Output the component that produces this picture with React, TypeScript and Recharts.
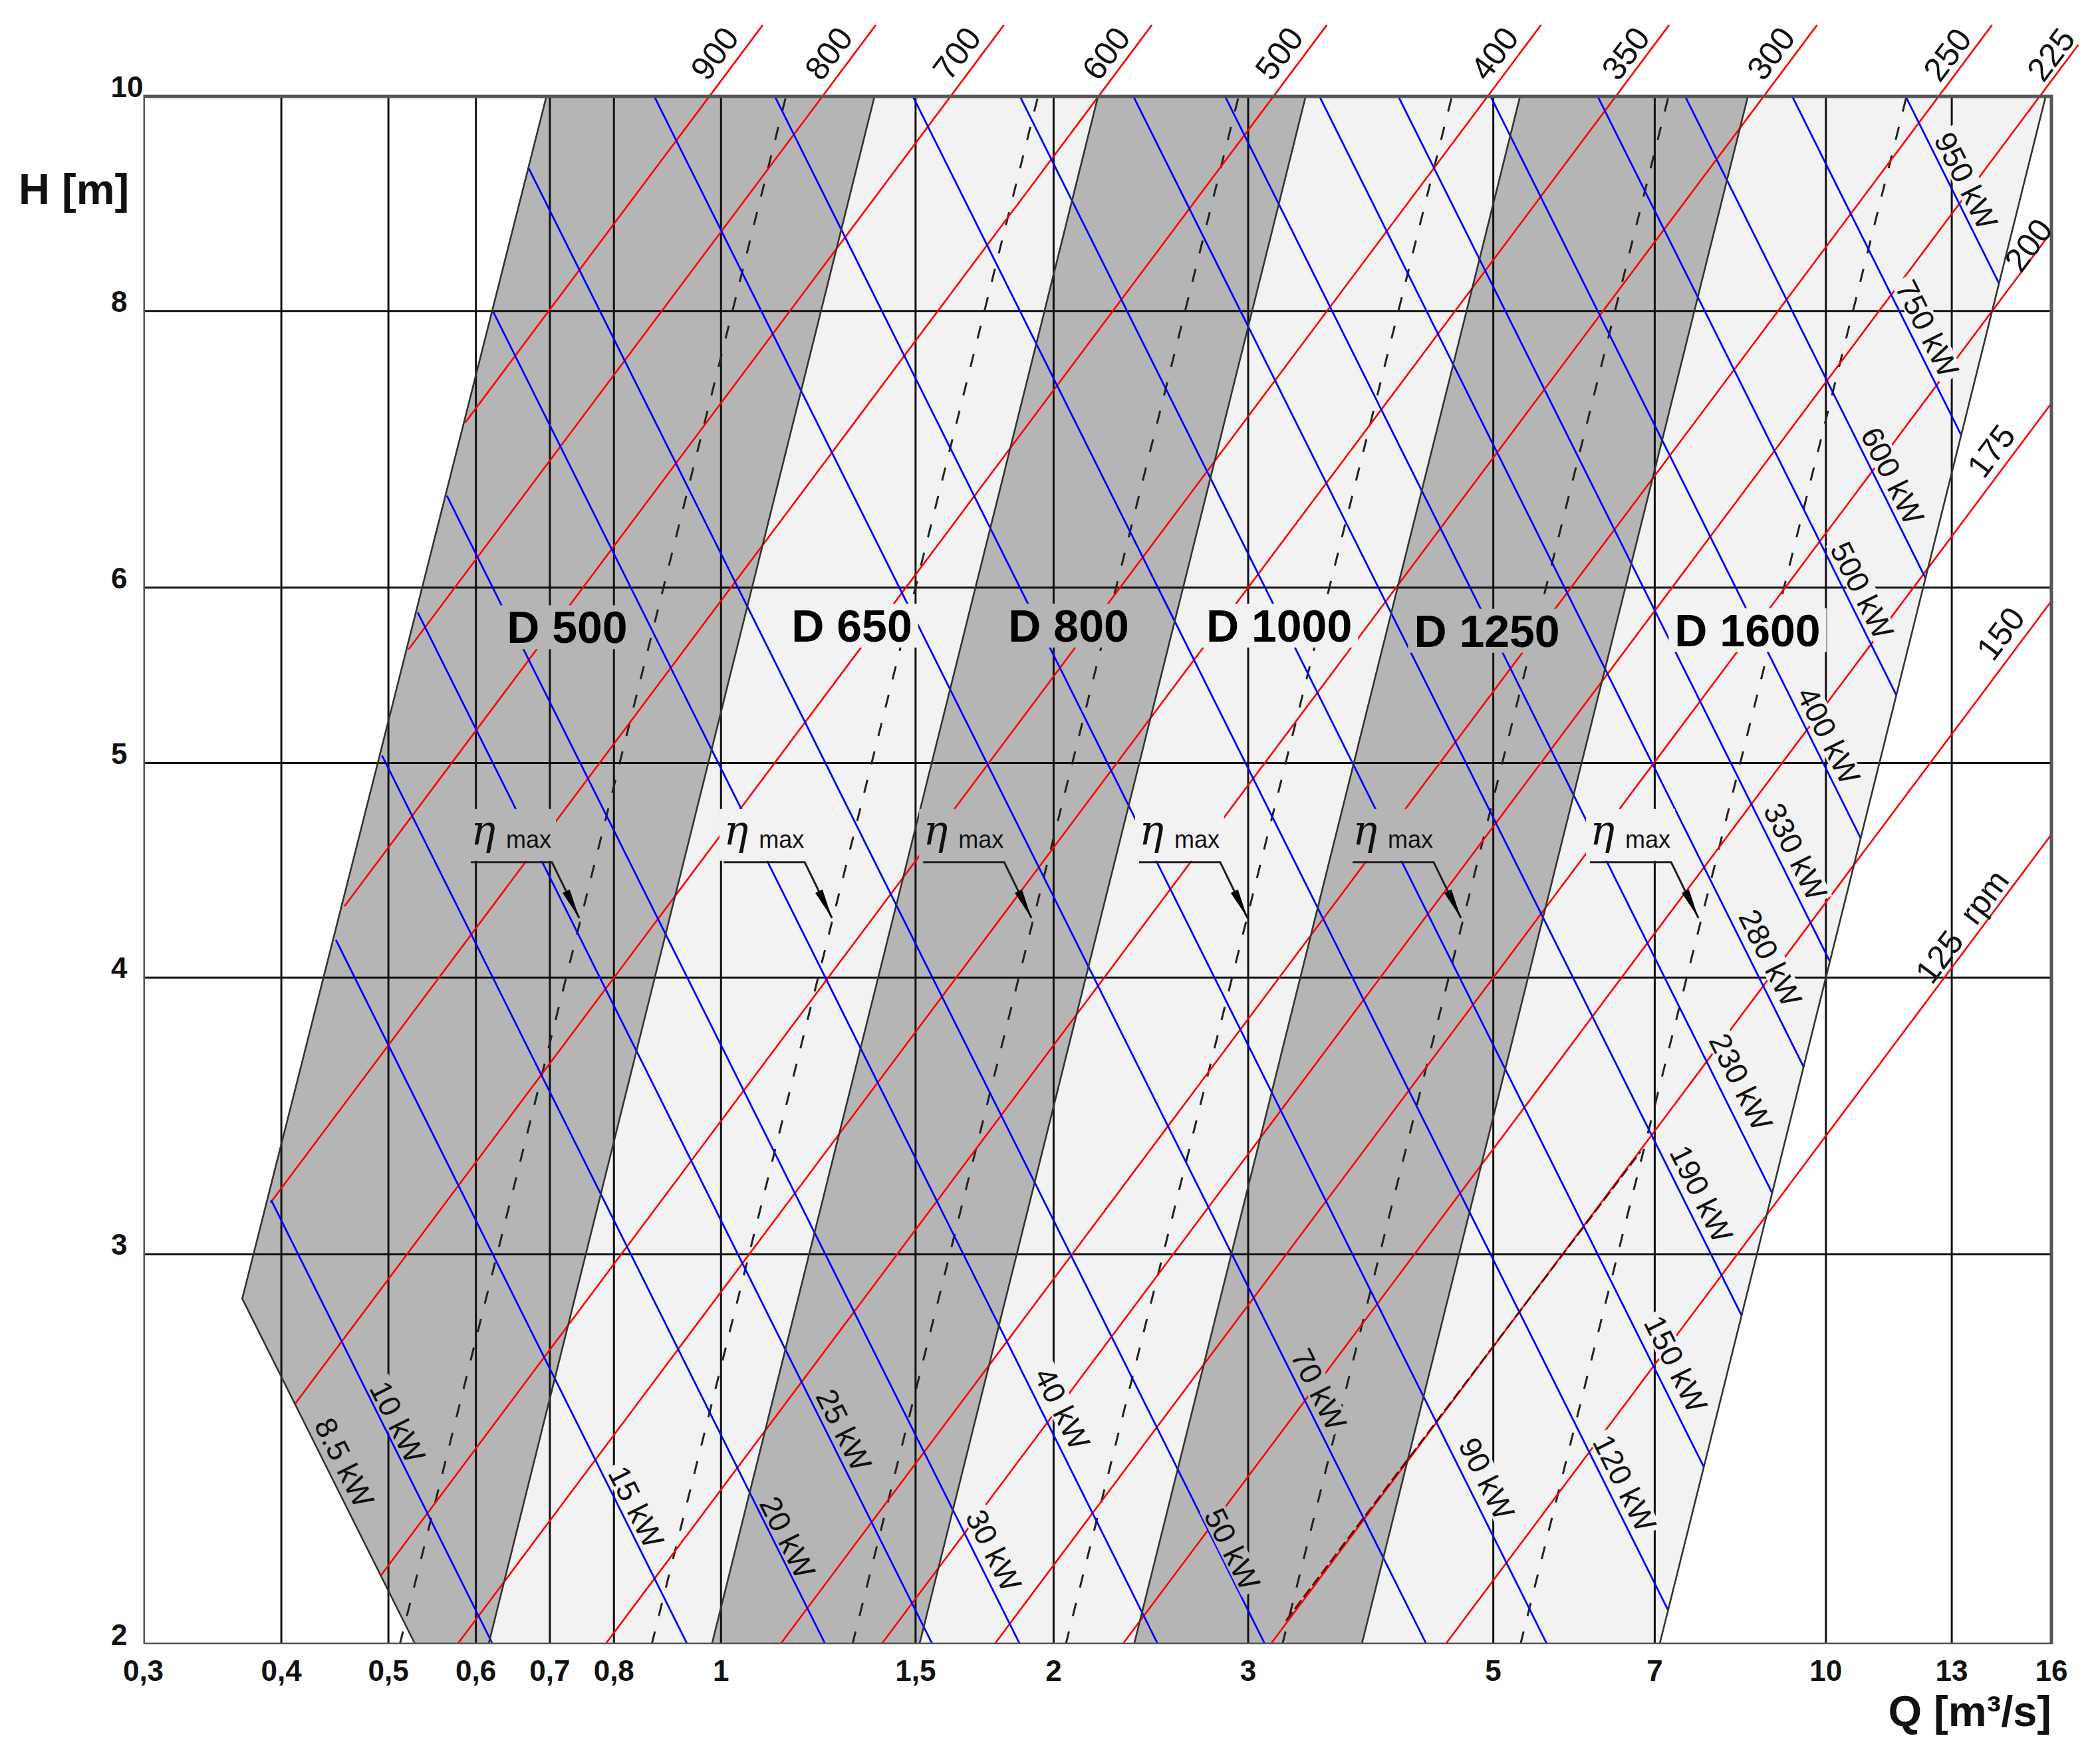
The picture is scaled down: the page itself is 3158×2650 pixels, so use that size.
import React from "react";
import { ComposedChart, Scatter, XAxis, YAxis } from "recharts";

// axes
const qTicks = [0.3, 0.4, 0.5, 0.6, 0.7, 0.8, 1, 1.5, 2, 3, 5, 7, 10, 13, 16];
const hTicks = [2, 3, 4, 5, 6, 8, 10];

// pump bands: Q where every band edge meets H = 10 and H = 2
const bandNames = ["D 500", "D 650", "D 800", "D 1000", "D 1250", "D 1600"];
const edgeTopQ = [0.695, 1.377, 2.194, 3.382, 5.287, 8.5, 15.81];
const edgeBottomQ = [0.5287, 0.616, 0.981, 1.512, 2.365, 3.801, 7.071];
const leftCorner = { q: 0.3687, h: 2.865 };

// speed lines [rpm, q0, h0, q1, h1]
const rpmLines = [
  [900, 0.5866, 7.122, 1.0909, 10.77],
  [800, 0.5214, 5.627, 1.3807, 10.77],
  [700, 0.4562, 4.308, 1.8033, 10.77],
  [600, 0.391, 3.165, 2.4545, 10.77],
  [500, 0.4116, 2.568, 3.5345, 10.77],
  [400, 0.4921, 2.148, 5.5227, 10.77],
  [350, 0.5772, 2, 7.2132, 10.77],
  [300, 0.7857, 2, 9.8181, 10.77],
  [250, 1.1314, 2, 14.138, 10.77],
  [225, 1.3968, 2, 16.92, 10.55],
  [200, 1.7678, 2, 16, 8.686],
  [175, 2.3089, 2, 16, 7.268],
  [150, 3.1427, 2, 16, 5.917],
  [125, 4.5255, 2, 16, 4.642],
];

// power lines [kW, q0, h0, q1, h1]
const kwLines = [
  [10, 0.3916, 3.174, 0.6215, 2],
  [15, 0.4482, 4.16, 0.9323, 2],
  [20, 0.4934, 5.039, 1.243, 2],
  [25, 0.5315, 5.847, 1.5538, 2],
  [30, 0.5647, 6.603, 1.8645, 2],
  [40, 0.6215, 8.0, 2.486, 2],
  [50, 0.6697, 9.281, 3.1075, 2],
  [70, 0.8701, 10, 4.3505, 2],
  [90, 1.1187, 10, 5.5935, 2],
  [120, 1.4916, 10, 7.197, 2.0724],
  [150, 1.8645, 10, 7.754, 2.4046],
  [190, 2.3617, 10, 8.389, 2.8152],
  [230, 2.8589, 10, 8.94, 3.1977],
  [280, 3.4804, 10, 9.547, 3.6455],
  [330, 4.1019, 10, 10.084, 4.0676],
  [400, 4.972, 10, 10.752, 4.6242],
  [500, 6.215, 10, 11.582, 5.3661],
  [600, 7.458, 10, 12.307, 6.0602],
  [750, 9.3225, 10, 13.258, 7.0314],
  [950, 11.809, 10, 14.346, 8.2314],
];

// best efficiency lines, Q at H = 2 and H = 10
const etaQBottom = [0.512, 0.8655, 1.315, 2.0514, 3.2216, 5.291];
const etaQTop = [1.145, 1.936, 2.941, 4.587, 7.204, 11.83];

// dark dashed piece on the 150 rpm line
const examplePath = [
  { q: 3.246, h: 2.05 },
  { q: 6.795, h: 3.338 },
];

// labels [text, q, h]
const kwLabels = [
  ["8.5 kW", 0.456, 2.416],
  ["10 kW", 0.5097, 2.52],
  ["15 kW", 0.8378, 2.307],
  ["20 kW", 1.1485, 2.235],
  ["25 kW", 1.2916, 2.499],
  ["30 kW", 1.7651, 2.205],
  ["40 kW", 2.0353, 2.555],
  ["50 kW", 2.9018, 2.208],
  ["70 kW", 3.475, 2.607],
  ["90 kW", 4.932, 2.376],
  ["120 kW", 6.572, 2.365],
  ["150 kW", 7.313, 2.677],
  ["190 kW", 7.714, 3.195],
  ["230 kW", 8.376, 3.589],
  ["280 kW", 8.907, 4.083],
  ["330 kW", 9.384, 4.56],
  ["400 kW", 10.056, 5.144],
  ["500 kW", 10.782, 5.983],
  ["600 kW", 11.49, 6.74],
  ["750 kW", 12.35, 7.855],
  ["950 kW", 13.39, 9.16],
];
const rpmLabels = [
  ["900", 0.986, 10.46],
  ["800", 1.2503, 10.46],
  ["700", 1.6334, 10.46],
  ["600", 2.2294, 10.46],
  ["500", 3.198, 10.46],
  ["400", 5.008, 10.46],
  ["350", 6.582, 10.46],
  ["300", 8.91, 10.46],
  ["250", 12.87, 10.447],
  ["225", 15.97, 10.447],
  ["200", 15.24, 8.571],
  ["175", 14.1, 6.918],
  ["150", 14.38, 5.722],
  ["125  rpm", 13.27, 4.22],
];
const bandLabelQ = [0.7257, 1.3135, 2.0637, 3.2, 4.934, 8.494];
const bandLabelH = [5.758, 5.768, 5.768, 5.768, 5.737, 5.741];
const etaMarkQ = [0.5937, 1.0054, 1.5237, 2.39, 3.729, 6.117];
const etaMarkH = 4.51;

const DARK = "#b5b5b5";
const LIGHT = "#f2f2f2";
const FONT = "'Liberation Sans', Arial, Helvetica, sans-serif";

const H_MIN = hTicks[0];
const H_MAX = hTicks[hTicks.length - 1];
const Q_MIN = qTicks[0];
const Q_MAX = qTicks[qTicks.length - 1];

const bandC = edgeTopQ.map((q) => q / Math.sqrt(H_MAX));
const bgAt = (q: number, h: number) => {
  const c = q / Math.sqrt(h);
  for (let i = 0; i < bandNames.length; i++) {
    if (c >= bandC[i] && c < bandC[i + 1]) return i % 2 ? LIGHT : DARK;
  }
  return "#ffffff";
};

const bandPolys = bandNames.map((_, i) => {
  const pts = [
    { q: edgeTopQ[i], h: H_MAX },
    { q: edgeTopQ[i + 1], h: H_MAX },
    { q: edgeBottomQ[i + 1], h: H_MIN },
    { q: edgeBottomQ[i], h: H_MIN },
  ];
  if (i === 0) pts.push(leftCorner);
  return pts;
});

const edgeLines = [
  [{ q: edgeTopQ[0], h: H_MAX }, leftCorner, { q: edgeBottomQ[0], h: H_MIN }],
  ...edgeTopQ.slice(1).map((q, k) => [
    { q: edgeBottomQ[k + 1], h: H_MIN },
    { q, h: H_MAX },
  ]),
];

const gridV = qTicks.slice(1, -1).map((q) => [
  { q, h: H_MIN },
  { q, h: H_MAX },
]);
const gridH = hTicks.slice(1, -1).map((h) => [
  { q: Q_MIN, h },
  { q: Q_MAX, h },
]);
const frame = [
  { q: Q_MIN, h: H_MIN },
  { q: Q_MIN, h: H_MAX },
  { q: Q_MAX, h: H_MAX },
  { q: Q_MAX, h: H_MIN },
  { q: Q_MIN, h: H_MIN },
];

const toSeg = (r: number[]) => [
  { q: r[1], h: r[2] },
  { q: r[3], h: r[4] },
];
const etaSegs = etaQBottom.map((q, i) => [
  { q, h: H_MIN },
  { q: etaQTop[i], h: H_MAX },
]);

const kwLabelData = kwLabels.map(([text, q, h]: any) => ({ text, q, h, bg: bgAt(q, h) }));
const rpmLabelData = rpmLabels.map(([text, q, h]: any) => ({ text, q, h }));
const bandLabelData = bandNames.map((text, i) => ({
  text,
  q: bandLabelQ[i],
  h: bandLabelH[i],
  bg: bgAt(bandLabelQ[i], bandLabelH[i]),
}));
const etaMarkData = etaMarkQ.map((q) => ({ q, h: etaMarkH, bg: bgAt(q * 1.1, etaMarkH) }));

const CW: Record<string, number> = { " ": 0.278, ",": 0.278, ".": 0.278, k: 0.5, W: 0.944, D: 0.722 };
const textWidth = (s: string, size: number) =>
  s.split("").reduce((a, ch) => a + (CW[ch] ?? 0.556), 0) * size;

const pathOf = (pts: { x: number; y: number }[]) =>
  pts.map((pt, i) => `${i ? "L" : "M"}${pt.x},${pt.y}`).join(" ");
const strokeLine = (style: any) => (p: any) => <path d={pathOf(p.points)} fill="none" {...style} />;
const fillShape = (fill: string) => (p: any) => <path d={pathOf(p.points) + " Z"} fill={fill} stroke="none" />;
const noDot = () => <g />;

const KwLabel = (p: any) => {
  const { cx, cy, payload } = p;
  const w = textWidth(payload.text, 46) + 12;
  return (
    <g transform={`translate(${cx},${cy}) rotate(63.5)`}>
      <rect x={-w / 2} y={-20} width={w} height={39} fill={payload.bg} />
      <text x={0} y={16} textAnchor="middle" fontFamily={FONT} fontSize={46} fill="#111">
        {payload.text}
      </text>
    </g>
  );
};

const RpmLabel = (p: any) => {
  const { cx, cy, payload } = p;
  return (
    <g transform={`translate(${cx},${cy}) rotate(-53.2)`}>
      <text x={0} y={18} textAnchor="middle" fontFamily={FONT} fontSize={50} fill="#111" xmlSpace="preserve">
        {payload.text}
      </text>
    </g>
  );
};

const BandLabel = (p: any) => {
  const { cx, cy, payload } = p;
  const w = textWidth(payload.text, 68) + 18;
  return (
    <g>
      <rect x={cx - w / 2} y={cy - 33} width={w} height={66} fill={payload.bg} />
      <text x={cx} y={cy + 24} textAnchor="middle" fontFamily={FONT} fontWeight="bold" fontSize={68} fill="#000">
        {payload.text}
      </text>
    </g>
  );
};

const EtaMark = (p: any) => {
  const { cx, cy, payload } = p;
  return (
    <g>
      <rect x={cx - 6} y={cy - 80} width={134} height={78} fill={payload.bg} />
      <text x={cx} y={cy - 27} fontFamily="'DejaVu Serif', serif" fontStyle="italic" fontSize={62} fill="#111">
        η
      </text>
      <text x={cx + 53} y={cy - 22} fontFamily={FONT} fontSize={36} fill="#111">
        max
      </text>
      <polyline
        points={`${cx},${cy} ${cx + 122},${cy} ${cx + 163},${cy + 84}`}
        fill="none"
        stroke="#222"
        strokeWidth={3}
      />
      <polygon
        points={`${cx + 163},${cy + 84} ${cx + 137.9},${cy + 46.2} ${cx + 148.7},${cy + 41}`}
        fill="#000"
      />
    </g>
  );
};

const XTick = (props: any) => {
  const { x, y, payload } = props;
  return (
    <text x={x} y={y + 55} textAnchor="middle" fontFamily={FONT} fontWeight="bold" fontSize={44} fill="#111">
      {String(payload.value).replace(".", ",")}
    </text>
  );
};

const YTick = (props: any) => {
  const { x, y, payload } = props;
  const v = payload.value;
  return (
    <text x={v >= 10 ? x : x - 24} y={y + 1} textAnchor="end" fontFamily={FONT} fontWeight="bold" fontSize={44} fill="#111">
      {v}
    </text>
  );
};

const seg = (key: string, data: any[], style: any) => (
  <Scatter key={key} data={data} shape={noDot} line={strokeLine(style)} isAnimationActive={false} legendType="none" />
);

export default function App() {
  return (
    <div style={{ width: 3142, height: 2634 }}>
      <ComposedChart width={3142} height={2634} margin={{ top: 12, right: 0, bottom: 89, left: 0 }}>
        <XAxis
          type="number"
          dataKey="q"
          scale="log"
          domain={[Q_MIN, 17.51]}
          allowDataOverflow
          ticks={qTicks}
          interval={0}
          axisLine={false}
          tickLine={false}
          tickSize={0}
          tickMargin={0}
          height={80}
          tick={XTick}
          label={(lp: any) => {
            const vb = lp.viewBox || {};
            return (
              <text x={vb.x + vb.width - 65} y={vb.y + 123} textAnchor="end" fontFamily={FONT} fontWeight="bold" fontSize={65} fill="#111">
                Q [m³/s]
              </text>
            );
          }}
        />
        <YAxis
          type="number"
          dataKey="h"
          scale="log"
          domain={[H_MIN, 10.902]}
          allowDataOverflow
          ticks={hTicks}
          interval={0}
          axisLine={false}
          tickLine={false}
          tickSize={0}
          tickMargin={0}
          width={207.5}
          tick={YTick}
          label={(lp: any) => {
            const vb = lp.viewBox || {};
            return (
              <text x={vb.x + 20} y={vb.y + 287} fontFamily={FONT} fontWeight="bold" fontSize={65} fill="#111">
                H [m]
              </text>
            );
          }}
        />

        {bandPolys.map((pts, i) => (
          <Scatter key={`band${i}`} data={pts} shape={noDot} line={fillShape(i % 2 ? LIGHT : DARK)} isAnimationActive={false} legendType="none" />
        ))}
        {gridV.map((d, i) => seg(`gv${i}`, d, { stroke: "#111", strokeWidth: 3 }))}
        {gridH.map((d, i) => seg(`gh${i}`, d, { stroke: "#111", strokeWidth: 3 }))}
        {etaSegs.map((d, i) => seg(`eta${i}`, d, { stroke: "#222", strokeWidth: 3, strokeDasharray: "20 24" }))}
        {rpmLines.map((r) => seg(`rpm${r[0]}`, toSeg(r), { stroke: "#ff0000", strokeWidth: 2.6 }))}
        {kwLines.map((r) => seg(`kw${r[0]}`, toSeg(r), { stroke: "#0000ff", strokeWidth: 2.8 }))}
        {edgeLines.map((d, i) => seg(`edge${i}`, d, { stroke: "#333", strokeWidth: 2.6 }))}
        {seg("example", examplePath, { stroke: "#6b0000", strokeWidth: 2.8, strokeDasharray: "16 6" })}
        {seg("frame", frame, { stroke: "#555", strokeWidth: 5, strokeLinejoin: "miter", strokeLinecap: "square" })}

        <Scatter data={kwLabelData} shape={KwLabel} isAnimationActive={false} legendType="none" />
        <Scatter data={bandLabelData} shape={BandLabel} isAnimationActive={false} legendType="none" />
        <Scatter data={etaMarkData} shape={EtaMark} isAnimationActive={false} legendType="none" />
        <Scatter data={rpmLabelData} shape={RpmLabel} isAnimationActive={false} legendType="none" />
      </ComposedChart>
    </div>
  );
}
